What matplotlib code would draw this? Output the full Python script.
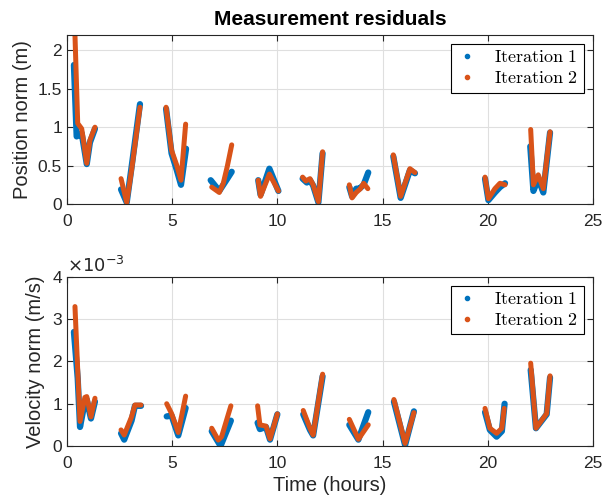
import numpy as np
import matplotlib
matplotlib.use('Agg')
import matplotlib.pyplot as plt
from matplotlib.lines import Line2D

plt.rcParams['font.family'] = ['Liberation Sans', 'DejaVu Sans']
plt.rcParams['mathtext.fontset'] = 'cm'

# time (hours) per pass, None separates passes
t_pos1 = [0.33, 0.46, 0.6, 0.7, 0.94, 1.09, 1.33, None,
          2.57, 2.84, 3.07, 3.47, None,
          4.71, 4.97, 5.21, 5.42, 5.66, None,
          6.83, 7.24, 7.43, 7.62, 7.83, None,
          9.09, 9.2, 9.62, 10.05, None,
          11.2, 11.4, 11.55, 11.7, 11.95, 12.15, None,
          13.42, 13.55, 13.75, 13.9, 14.1, 14.32, None,
          15.51, 15.86, 16.3, 16.54, None,
          19.87, 20.03, 20.34, 20.58, 20.82, None,
          22.02, 22.17, 22.4, 22.64, 22.96]
pos1 = [1.81, 0.88, 0.9, 0.92, 0.52, 0.8, 0.98, None,
        0.19, 0.02, 0.48, 1.30, None,
        1.24, 0.66, 0.45, 0.25, 0.72, None,
        0.31, 0.17, 0.25, 0.33, 0.42, None,
        0.31, 0.12, 0.46, 0.17, None,
        0.33, 0.28, 0.31, 0.24, 0.02, 0.66, None,
        0.22, 0.1, 0.2, 0.2, 0.25, 0.41, None,
        0.62, 0.08, 0.44, 0.40, None,
        0.33, 0.05, 0.15, 0.22, 0.27, None,
        0.75, 0.17, 0.33, 0.15, 0.93]

t_pos2 = [0.38, 0.51, 0.7, 0.94, 1.09, 1.33, None,
          2.57, 2.84, 3.07, 3.47, None,
          4.71, 4.97, 5.21, 5.42, 5.64, None,
          6.88, 7.24, 7.43, 7.62, 7.83, None,
          9.09, 9.2, 9.62, 10.05, None,
          11.2, 11.35, 11.55, 11.7, 11.95, 12.15, None,
          13.42, 13.55, 13.75, 13.95, 14.1, 14.3, None,
          15.51, 15.86, 16.3, 16.54, None,
          19.87, 20.03, 20.34, 20.58, 20.82, None,
          22.04, 22.17, 22.4, 22.64, 22.96]
pos2 = [2.2, 1.05, 0.98, 0.53, 0.83, 1.0, None,
        0.33, 0.02, 0.44, 1.26, None,
        1.26, 0.70, 0.51, 0.31, 1.04, None,
        0.22, 0.15, 0.27, 0.49, 0.77, None,
        0.31, 0.10, 0.39, 0.17, None,
        0.35, 0.30, 0.33, 0.25, 0.03, 0.68, None,
        0.25, 0.08, 0.15, 0.2, 0.27, 0.2, None,
        0.64, 0.10, 0.46, 0.41, None,
        0.35, 0.07, 0.20, 0.27, 0.25, None,
        0.97, 0.25, 0.38, 0.20, 0.94]

# velocity norm in units of 1e-3 m/s
t_vel1 = [0.33, 0.51, 0.62, 0.85, 0.94, 1.14, 1.33, None,
          2.57, 2.72, 3.07, 3.23, 3.52, None,
          4.74, 4.97, 5.29, 5.64, None,
          6.88, 7.3, 7.79, None,
          9.06, 9.17, 9.46, 9.65, 10.0, None,
          11.23, 11.55, 11.7, 12.15, None,
          13.42, 13.85, 14.32, None,
          15.54, 16.07, 16.49, None,
          19.87, 20.1, 20.42, 20.67, 20.8, None,
          22.04, 22.29, 22.8, 22.96]
vel1 = [2.7, 1.6, 0.45, 1.05, 1.1, 0.65, 1.05, None,
        0.3, 0.15, 0.6, 0.95, 0.95, None,
        0.7, 0.72, 0.25, 0.9, None,
        0.35, 0.0, 0.6, None,
        0.55, 0.4, 0.45, 0.15, 0.75, None,
        0.75, 0.38, 0.25, 1.65, None,
        0.5, 0.15, 0.8, None,
        1.05, 0.02, 0.82, None,
        0.8, 0.38, 0.22, 0.35, 1.0, None,
        1.8, 0.42, 0.75, 1.62]

t_vel2 = [0.38, 0.51, 0.62, 0.85, 0.94, 1.14, 1.33, None,
          2.57, 2.72, 3.07, 3.23, 3.52, None,
          4.74, 4.97, 5.29, 5.64, None,
          6.88, 7.19, 7.35, 7.79, None,
          9.06, 9.17, 9.46, 9.65, 10.0, None,
          11.23, 11.55, 11.7, 12.15, None,
          13.42, 13.85, 14.32, None,
          15.54, 16.07, 16.49, None,
          19.87, 20.1, 20.42, 20.67, 20.78, None,
          22.04, 22.29, 22.8, 22.96]
vel2 = [3.3, 1.8, 0.58, 1.15, 1.17, 0.69, 1.13, None,
        0.38, 0.26, 0.69, 0.97, 0.97, None,
        1.0, 0.77, 0.32, 1.18, None,
        0.42, 0.14, 0.22, 0.95, None,
        0.95, 0.5, 0.47, 0.17, 0.76, None,
        0.84, 0.42, 0.26, 1.70, None,
        0.63, 0.16, 0.50, None,
        1.10, 0.06, 0.79, None,
        0.89, 0.42, 0.30, 0.42, 0.89, None,
        1.96, 0.42, 0.77, 1.66]


def arr(v):
    return np.array([np.nan if x is None else x for x in v], dtype=float)


blue = '#0072BD'
orange = '#D95319'
dark = '#262626'

fig = plt.figure(figsize=(6.05, 5.04), dpi=100)
ax1 = fig.add_axes([0.1107, 0.5952, 0.8694, 0.3353])
ax2 = fig.add_axes([0.1107, 0.1151, 0.8694, 0.3353])

ax1.plot(arr(t_pos1), arr(pos1), '-', color=blue, lw=4.5, solid_capstyle='round')
ax1.plot(arr(t_pos2), arr(pos2), '-', color=orange, lw=3.6, solid_capstyle='round')
ax2.plot(arr(t_vel1), arr(vel1), '-', color=blue, lw=4.5, solid_capstyle='round')
ax2.plot(arr(t_vel2), arr(vel2), '-', color=orange, lw=3.6, solid_capstyle='round')

handles = [Line2D([], [], ls='none', marker='.', ms=6, color=blue),
           Line2D([], [], ls='none', marker='.', ms=6, color=orange)]
labels = [r'$\mathrm{Iteration\ 1}$', r'$\mathrm{Iteration\ 2}$']

for ax in (ax1, ax2):
    ax.set_xlim(0, 25)
    ax.set_xticks([0, 5, 10, 15, 20, 25])
    ax.grid(True, color='#dfdfdf', lw=0.8)
    ax.set_axisbelow(True)
    ax.tick_params(direction='in', top=True, right=True, labelsize=12.5,
                   length=4, color=dark, labelcolor=dark)
    ax.tick_params(axis='x', pad=7)
    for s in ax.spines.values():
        s.set_color(dark)
        s.set_linewidth(0.8)
    leg = ax.legend(handles, labels, loc='upper right', fontsize=13,
                    fancybox=False, edgecolor='black', framealpha=1,
                    handlelength=1.2, handletextpad=0.9, borderpad=0.3,
                    labelspacing=0.2, borderaxespad=0.5)
    leg.get_frame().set_linewidth(0.8)

ax1.set_ylim(0, 2.2)
ax1.set_yticks([0, 0.5, 1, 1.5, 2])
ax1.set_yticklabels(['0', '0.5', '1', '1.5', '2'])
ax1.set_xticklabels(['0', '5', '10', '15', '20', '25'])
ax1.set_ylabel('Position norm (m)', fontsize=14.5, color=dark, labelpad=4)
ax1.set_title('Measurement residuals', fontsize=15, fontweight='bold', pad=7)

ax2.set_ylim(0, 4)
ax2.set_yticks([0, 1, 2, 3, 4])
ax2.set_ylabel('Velocity norm (m/s)', fontsize=14.5, color=dark, labelpad=5)
ax2.set_xlabel('Time (hours)', fontsize=14.5, color=dark, labelpad=4)
ax2.text(0.0, 1.005, r'$\times10^{-3}$', transform=ax2.transAxes, fontsize=13,
         color=dark, math_fontfamily='dejavusans', va='bottom', ha='left')

fig.savefig('out.png', dpi=100)
